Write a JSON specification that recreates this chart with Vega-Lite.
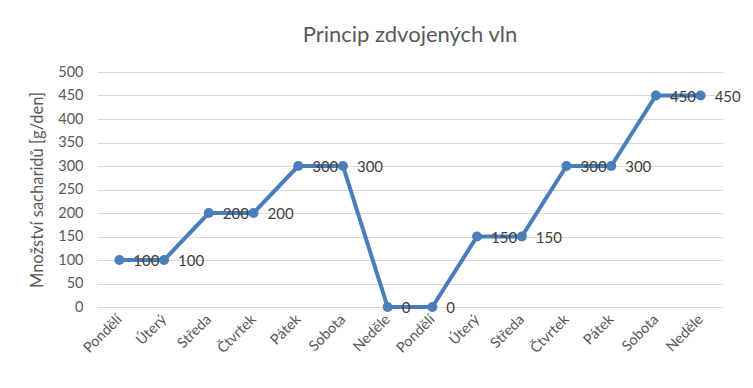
{
  "$schema": "https://vega.github.io/schema/vega-lite/v6.json",
  "autosize": "none",
  "width": 626,
  "height": 235,
  "padding": {"left": 97, "top": 72, "right": 30, "bottom": 81},
  "background": "white",
  "title": {
    "text": "Princip zdvojených vln",
    "fontSize": 22,
    "font": "Lato",
    "fontWeight": "normal",
    "color": "#595959",
    "anchor": "middle",
    "offset": 17
  },
  "data": {
    "values": [
      {"poradi": 0, "den": "Pondělí", "mnozstvi": 100},
      {"poradi": 1, "den": "Úterý", "mnozstvi": 100},
      {"poradi": 2, "den": "Středa", "mnozstvi": 200},
      {"poradi": 3, "den": "Čtvrtek", "mnozstvi": 200},
      {"poradi": 4, "den": "Pátek", "mnozstvi": 300},
      {"poradi": 5, "den": "Sobota", "mnozstvi": 300},
      {"poradi": 6, "den": "Neděle", "mnozstvi": 0},
      {"poradi": 7, "den": "Pondělí", "mnozstvi": 0},
      {"poradi": 8, "den": "Úterý", "mnozstvi": 150},
      {"poradi": 9, "den": "Středa", "mnozstvi": 150},
      {"poradi": 10, "den": "Čtvrtek", "mnozstvi": 300},
      {"poradi": 11, "den": "Pátek", "mnozstvi": 300},
      {"poradi": 12, "den": "Sobota", "mnozstvi": 450},
      {"poradi": 13, "den": "Neděle", "mnozstvi": 450}
    ]
  },
  "encoding": {
    "x": {
      "field": "poradi",
      "type": "ordinal",
      "scale": {"type": "point", "padding": 0.5},
      "axis": {
        "title": null,
        "labelExpr": "['Pondělí','Úterý','Středa','Čtvrtek','Pátek','Sobota','Neděle','Pondělí','Úterý','Středa','Čtvrtek','Pátek','Sobota','Neděle'][datum.value]",
        "labelAngle": -45,
        "labelAlign": "right",
        "labelBaseline": "middle",
        "labelPadding": 10,
        "labelFont": "Lato",
        "labelFontSize": 14.5,
        "labelColor": "#595959",
        "ticks": false,
        "domain": true,
        "domainColor": "#d9d9d9",
        "grid": false
      }
    },
    "y": {
      "field": "mnozstvi",
      "type": "quantitative",
      "scale": {"domain": [0, 500], "nice": false},
      "axis": {
        "title": "Množství sacharidů [g/den]",
        "titleFont": "Lato",
        "titleFontSize": 16.5,
        "titleFontWeight": "normal",
        "titleColor": "#595959",
        "titlePadding": 12,
        "values": [0, 50, 100, 150, 200, 250, 300, 350, 400, 450, 500],
        "labelFont": "Lato",
        "labelFontSize": 14.5,
        "labelColor": "#595959",
        "labelPadding": 14,
        "ticks": false,
        "domain": false,
        "grid": true,
        "gridColor": "#d9d9d9",
        "gridWidth": 1
      }
    }
  },
  "layer": [
    {
      "mark": {"type": "line", "color": "#4a7ebb", "strokeWidth": 4, "point": {"filled": true, "size": 100, "color": "#4a7ebb", "opacity": 1}}
    },
    {
      "mark": {"type": "text", "align": "left", "baseline": "middle", "dx": 14, "dy": 1, "font": "Lato", "fontSize": 15, "color": "#404040"},
      "encoding": {"text": {"field": "mnozstvi", "type": "quantitative"}}
    }
  ],
  "config": {"view": {"stroke": null}}
}
